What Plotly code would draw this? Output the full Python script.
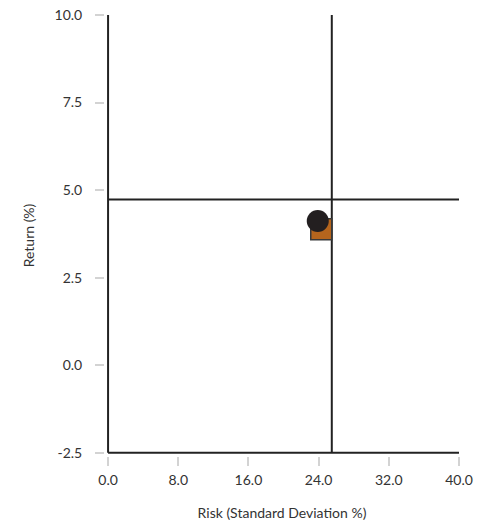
import plotly.graph_objects as go

# Data
series_names = ["Portfolio", "Benchmark"]
risk = [24.3, 23.9]          # standard deviation %
ret = [3.88, 4.12]           # return %
symbols = ["square", "circle"]
colors = ["#B5651D", "#231F20"]
ref_risk = 25.5              # vertical reference line
ref_return = 4.73            # horizontal reference line

x_ticks = [0.0, 8.0, 16.0, 24.0, 32.0, 40.0]
y_ticks = [-2.5, 0.0, 2.5, 5.0, 7.5, 10.0]

fig = go.Figure()
for name, xv, yv, sym, col in zip(series_names, risk, ret, symbols, colors):
    fig.add_trace(go.Scatter(
        x=[xv], y=[yv], mode="markers", name=name,
        marker=dict(symbol=sym, size=21 if sym == "square" else 22, color=col,
                    line=dict(color="#3a3a3a", width=1.5 if sym == "square" else 0)),
        showlegend=False, hoverinfo="skip",
    ))

line_col = "#222222"
fig.add_shape(type="line", x0=x_ticks[0], x1=x_ticks[0], y0=y_ticks[0], y1=y_ticks[-1],
              line=dict(color=line_col, width=2), layer="below")
fig.add_shape(type="line", x0=x_ticks[0], x1=x_ticks[-1], y0=y_ticks[0], y1=y_ticks[0],
              line=dict(color=line_col, width=2), layer="below")
fig.add_shape(type="line", x0=ref_risk, x1=ref_risk, y0=y_ticks[0], y1=y_ticks[-1],
              line=dict(color=line_col, width=2), layer="below")
fig.add_shape(type="line", x0=x_ticks[0], x1=x_ticks[-1], y0=ref_return, y1=ref_return,
              line=dict(color=line_col, width=2), layer="below")

font = dict(family="Lato, Open Sans, sans-serif", size=14, color="#333333")
fig.update_layout(
    width=487, height=525,
    margin=dict(l=105, r=28, t=15, b=69, autoexpand=False),
    plot_bgcolor="white", paper_bgcolor="white",
    font=font,
    xaxis=dict(
        range=[-0.35, 40], tickvals=x_ticks, ticktext=[f"{v:.1f}" for v in x_ticks],
        showgrid=False, zeroline=False, showline=False, automargin=False,
        ticks="outside", ticklen=9, tickwidth=2, tickcolor="#d3d3d3",
        ticklabelstandoff=2,
        title=dict(text="Risk (Standard Deviation %)", font=font, standoff=21),
    ),
    yaxis=dict(
        range=[-2.59, 10], tickvals=y_ticks, ticktext=[f"{v:.1f}" for v in y_ticks],
        showgrid=False, zeroline=False, showline=False, automargin=False,
        ticks="outside", ticklen=9, tickwidth=2, tickcolor="#d3d3d3",
        ticklabelstandoff=10,
        title=dict(text="Return (%)", font=font, standoff=16),
    ),
)

fig.write_html("out.html", config={"displayModeBar": False},
               post_script="document.body.style.margin='0';document.body.style.padding='0';")
